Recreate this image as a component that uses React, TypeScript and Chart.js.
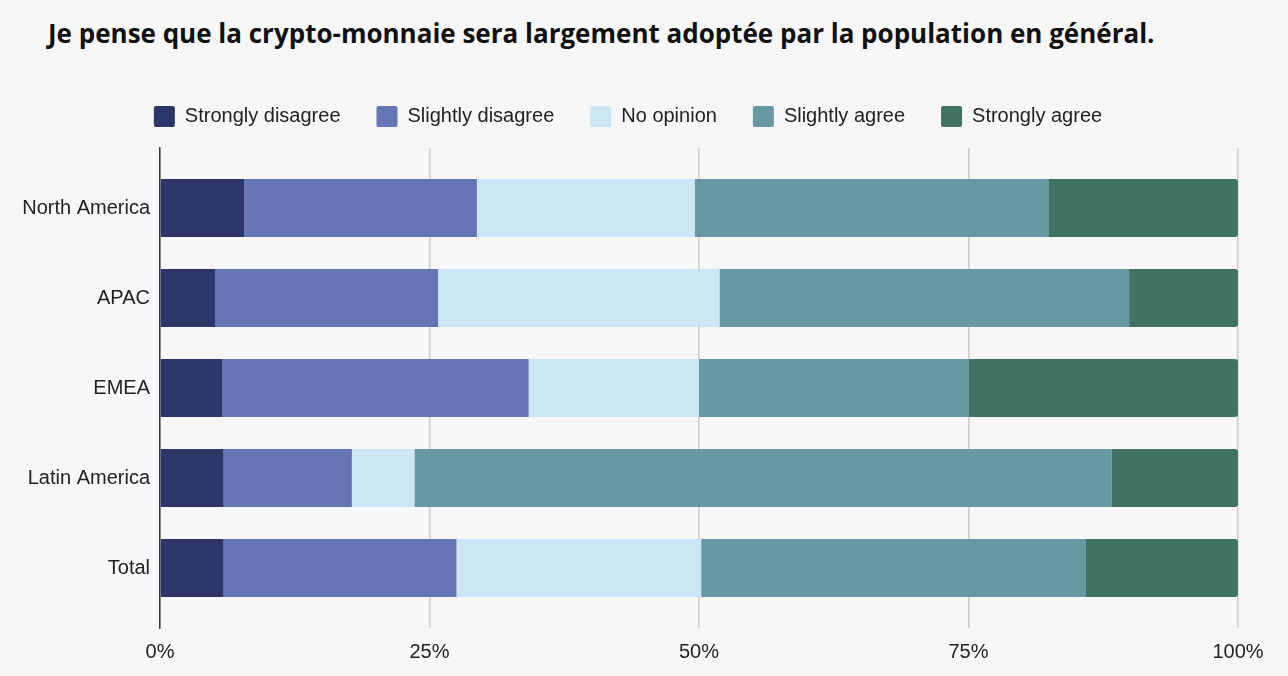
import React, { useEffect, useRef } from "react";
import { Chart, registerables } from "chart.js";

Chart.register(...registerables);

const categories = ["North America", "APAC", "EMEA", "Latin America", "Total"];
const seriesNames = ["Strongly disagree", "Slightly disagree", "No opinion", "Slightly agree", "Strongly agree"];
const stronglyDisagree = [7.8, 5.1, 5.8, 5.9, 5.9];
const slightlyDisagree = [21.6, 20.7, 28.4, 11.9, 21.6];
const noOpinion = [20.2, 26.1, 15.8, 5.8, 22.7];
const slightlyAgree = [32.8, 38.0, 25.0, 64.7, 35.7];
const stronglyAgree = [17.6, 10.1, 25.0, 11.7, 14.1];
const seriesColors = ["#2c3668", "#6675b4", "#cce6f4", "#6899a3", "#427264"];
const xTicks = [0, 25, 50, 75, 100];

const TITLE = "Je pense que la crypto-monnaie sera largement adoptée par la population en général.";
const FONT = "'Liberation Sans', Arial, sans-serif";

export default function App() {
  const canvasRef = useRef<HTMLCanvasElement | null>(null);

  useEffect(() => {
    if (!canvasRef.current) return;
    const values = [stronglyDisagree, slightlyDisagree, noOpinion, slightlyAgree, stronglyAgree];
    const chart = new Chart(canvasRef.current, {
      type: "bar",
      data: {
        labels: categories,
        datasets: seriesNames.map((name, i) => ({
          label: name,
          data: values[i],
          backgroundColor: seriesColors[i],
          borderWidth: 0,
          borderRadius: i === seriesNames.length - 1 ? 3 : 0,
          barPercentage: 0.805,
          categoryPercentage: 0.8,
        })),
      },
      options: {
        indexAxis: "y",
        animation: false,
        responsive: true,
        maintainAspectRatio: false,
        layout: { padding: { left: 18, right: 50, top: 70, bottom: 12 } },
        plugins: {
          tooltip: { enabled: false },
          title: { display: false },
          subtitle: {
            display: true,
            text: "",
            weight: 500,
            position: "top",
            font: { size: 1, lineHeight: 1 },
            padding: { top: 5, bottom: 5 },
          } as any,
          legend: {
            display: true,
            position: "top",
            labels: {
              boxWidth: 21,
              boxHeight: 21,
              padding: 36,
              color: "#222",
              font: { family: FONT, size: 20 },
              useBorderRadius: true,
              borderRadius: 2,
            } as any,
          },
        },
        scales: {
          x: {
            stacked: true,
            min: 0,
            max: 100,
            afterBuildTicks: (scale: any) => {
              scale.ticks = xTicks.map((v) => ({ value: v }));
            },
            afterFit: (scale: any) => {
              scale.height = 36;
            },
            ticks: {
              padding: 12,
              color: "#222",
              font: { family: FONT, size: 20 },
              callback: (v: any) => v + "%",
            },
            grid: { color: "#cccccc", lineWidth: 1.5, drawTicks: false },
            border: { display: false },
          },
          y: {
            stacked: true,
            afterBuildTicks: (scale: any) => {
              scale._startValue = -0.6667;
              scale._valueRange = 5.3333;
            },
            afterFit: (scale: any) => {
              scale.width = 142;
            },
            ticks: {
              padding: 10,
              color: "#222",
              font: { family: FONT, size: 20 },
            },
            grid: { display: false, drawTicks: false },
            border: { display: true, color: "#333333", width: 1.5 },
          },
        },
      },
    });
    return () => chart.destroy();
  }, []);

  return (
    <div
      style={{
        position: "fixed",
        left: 0,
        top: 0,
        width: 1288,
        height: 676,
        background: "#f7f7f7",
      }}
    >
      <div
        style={{
          position: "absolute",
          left: 48,
          top: 15,
          fontFamily: "'Open Sans', 'Noto Sans', sans-serif",
          fontWeight: 700,
          fontSize: 26,
          color: "#111",
          whiteSpace: "nowrap",
        }}
      >
        {TITLE}
      </div>
      <canvas ref={canvasRef} style={{ position: "absolute", left: 0, top: 0, width: 1288, height: 676 }} />
    </div>
  );
}
